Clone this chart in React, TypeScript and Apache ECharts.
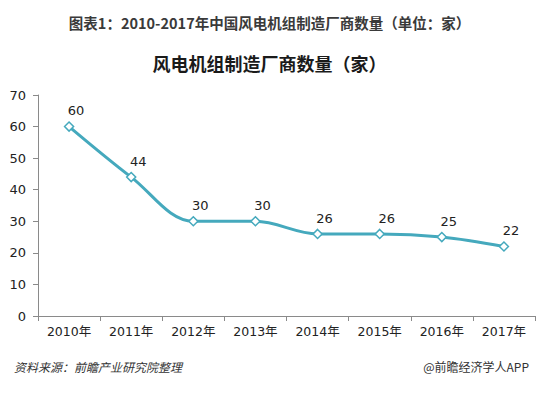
import React, { useEffect, useRef } from "react";
import * as echarts from "echarts";

const categories = ["2010年", "2011年", "2012年", "2013年", "2014年", "2015年", "2016年", "2017年"];
const values = [60, 44, 30, 30, 26, 26, 25, 22];
const yTicks = [0, 10, 20, 30, 40, 50, 60, 70];

const topTitle = "图表1：2010-2017年中国风电机组制造厂商数量（单位：家）";
const chartTitle = "风电机组制造厂商数量（家）";
const sourceText = "资料来源：前瞻产业研究院整理";
const brandText = "@前瞻经济学人APP";

export default function App() {
  const ref = useRef<HTMLDivElement>(null);
  useEffect(() => {
    if (!ref.current) return;
    const chart = echarts.init(ref.current, null, { renderer: "svg" });
    const font = "'Microsoft YaHei', 'Noto Sans CJK SC', 'Noto Sans', sans-serif";
    const numFont = "'DejaVu Sans', 'Noto Sans CJK SC', sans-serif";
    chart.setOption({
      animation: false,
      backgroundColor: "#ffffff",
      title: [
        {
          text: topTitle,
          left: "center",
          top: 10,
          textStyle: { fontSize: 14.5, fontWeight: "bold", color: "#3a3a3a", fontFamily: font },
        },
        {
          text: chartTitle,
          left: "center",
          top: 49,
          textStyle: { fontSize: 18, fontWeight: "bold", color: "#1a1a1a", fontFamily: font },
        },
      ],
      graphic: [
        {
          type: "text",
          left: 14,
          top: 360,
          style: { text: sourceText, fontSize: 12, fontStyle: "italic", fill: "#333", fontFamily: font },
        },
        {
          type: "text",
          right: 10,
          top: 360,
          style: { text: brandText, fontSize: 12, fill: "#333", fontFamily: font },
        },
      ],
      grid: { left: 38, right: 4, top: 95, bottom: 77, containLabel: false },
      xAxis: {
        type: "category",
        data: categories,
        boundaryGap: true,
        axisLine: { lineStyle: { color: "#8a8a8a" } },
        axisTick: { show: true, alignWithLabel: false, length: 5, lineStyle: { color: "#8a8a8a" } },
        axisLabel: { fontSize: 12.5, color: "#222", margin: 9, fontFamily: numFont },
      },
      yAxis: {
        type: "value",
        min: yTicks[0],
        max: yTicks[yTicks.length - 1],
        interval: 10,
        axisLine: { show: true, lineStyle: { color: "#8a8a8a" } },
        axisTick: { show: true, length: 5, lineStyle: { color: "#8a8a8a" } },
        axisLabel: { fontSize: 13, color: "#222", margin: 12, fontFamily: numFont },
        splitLine: { show: false },
      },
      series: [
        {
          type: "line",
          data: values,
          smooth: 0.35,
          symbol: "diamond",
          symbolSize: 9,
          lineStyle: { color: "#45a9bd", width: 3 },
          itemStyle: { color: "#ffffff", borderColor: "#45a9bd", borderWidth: 1.5 },
          label: {
            show: true,
            position: "top",
            offset: [7, 1],
            fontSize: 13,
            color: "#222",
            fontFamily: numFont,
          },
        },
      ],
    });
    return () => chart.dispose();
  }, []);
  return <div ref={ref} style={{ width: 539, height: 393, position: "absolute", left: 0, top: 0 }} />;
}
